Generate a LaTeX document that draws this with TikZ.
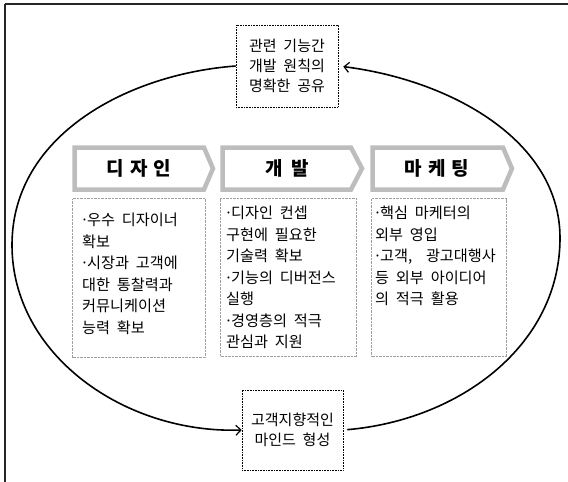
\documentclass[tikz,border=0pt]{standalone}
\usepackage{fontspec}
\usetikzlibrary{arrows.meta}
\newfontfamily\kr[WordSpace=2]{Noto Sans CJK KR}
\newcommand\bdot{\makebox[5pt][c]{·}}
\begin{document}
\begin{tikzpicture}[x=1pt,y=-1pt,
  frameline/.style={line width=1.4pt, draw=black!85},
  ebox/.style={draw, densely dotted, line width=0.6pt, align=center, inner sep=0pt,
     font=\kr\fontsize{15}{20}\selectfont},
  hdr/.style={draw=gray!52, line width=4.5pt, fill=white, line join=miter},
  htext/.style={inner sep=0pt, font=\kr\bfseries\fontsize{19}{22}\selectfont},
  bbox/.style={draw=gray!75, line width=1.1pt, dash pattern=on 0.7pt off 0.7pt, inner sep=0pt, anchor=north west},
  btext/.style={align=left, inner sep=0pt, anchor=north west, font=\kr\fontsize{15.2}{21.5}\selectfont},
  loopline/.style={line width=1.6pt, -{Straight Barb[length=5pt,width=10pt,line width=1.2pt]}}
]
\useasboundingbox (0,0) rectangle (568,482);
\draw[frameline] (5,4) -- (568,4);
\draw[frameline] (5,4) -- (5,482);

% top and bottom boxes
\node[ebox, minimum width=102pt, minimum height=82pt] (t) at (287,66) {관련 기능간\\개발 원칙의\\명확한 공유};
\node[ebox, minimum width=101pt, minimum height=80pt] (b) at (292.5,430) {고객지향적인\\마인드 형성};

% headers
\draw[hdr] (74.5,147.5) -- (204,147.5) -- (213,168.5) -- (204,189.5) -- (74.5,189.5) -- cycle;
\node[htext] (dh) at (139,168) {디\hspace{6pt}자\hspace{6pt}인};
\draw[hdr] (222.5,147.5) -- (351,147.5) -- (362,168.5) -- (351,189.5) -- (222.5,189.5) -- cycle;
\node[htext] (gh) at (287,168) {개\hspace{8pt}발};
\draw[hdr] (372.5,147.5) -- (503,147.5) -- (512,168.5) -- (503,189.5) -- (372.5,189.5) -- cycle;
\node[htext] (mh) at (437,168) {마\hspace{6pt}케\hspace{6pt}팅};

% body boxes
\node[bbox, minimum width=133pt, minimum height=159pt] (db) at (72,198) {};
\node[bbox, minimum width=136pt, minimum height=158pt] (gb) at (220,198) {};
\node[bbox, minimum width=135pt, minimum height=158pt] (mb) at (371,198) {};

\node[btext] (dt) at (82,213) {\bdot 우수 디자이너\\확보\\\bdot 시장과 고객에\\대한 통찰력과\\커뮤니케이션\\능력 확보};
\node[btext] (gt) at (226,206) {\bdot 디자인 컨셉\\구현에 필요한\\기술력 확보\\\bdot 기능의 디버전스\\실행\\\bdot 경영층의 적극\\관심과 지원};
\node[btext] (mt) at (375,206) {\bdot 핵심 마케터의\\외부 영입\\\bdot 고객,\ \ 광고대행사\\등 외부 아이디어\\의 적극 활용};

% loop connectors
\coordinate (L) at (12,245);
\coordinate (R) at (560,238);
\draw[loopline] (t.west) .. controls (128,74) and (12,135) .. (L) .. controls (12,355) and (125,434) .. (b.west);
\draw[loopline, shorten <=4pt, shorten >=5pt] (b.east) .. controls (460,420) and (560,345) .. (R) .. controls (560,140) and (450,80) .. (t.east);
\end{tikzpicture}
\end{document}
